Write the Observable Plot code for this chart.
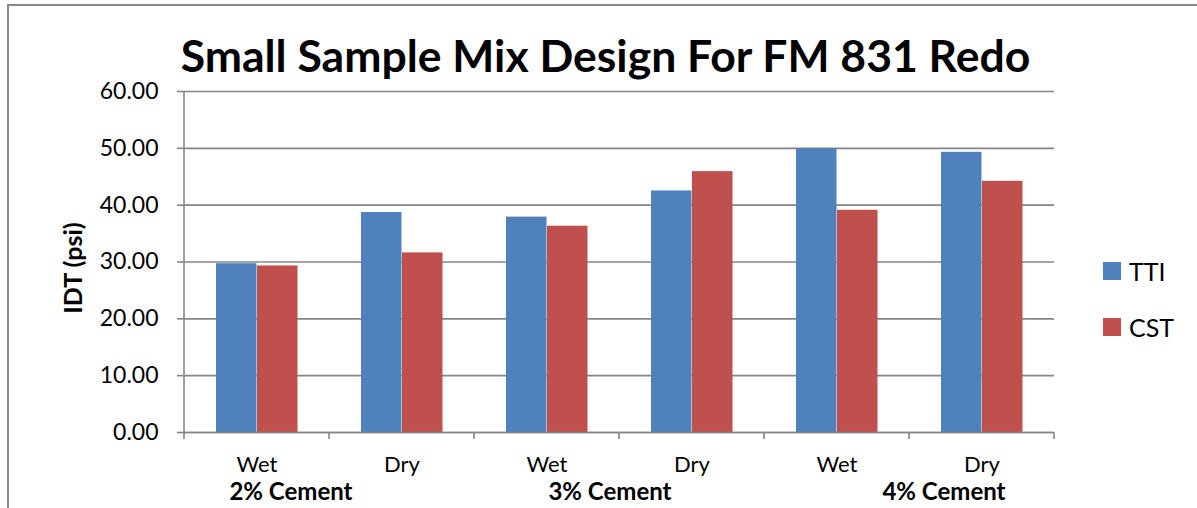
<!DOCTYPE html>
<html><head><meta charset="utf-8">
<script src="https://cdn.jsdelivr.net/npm/d3@7"></script>
<script src="https://cdn.jsdelivr.net/npm/@observablehq/plot@0.6"></script>
<style>
html,body{margin:0;padding:0;background:#fff;}
#wrap{position:relative;width:1197px;height:508px;overflow:hidden;font-family:Lato,"Open Sans",sans-serif;color:#000;}
#border{position:absolute;left:7px;top:4px;width:1400px;height:700px;border-left:2px solid #898989;border-top:2px solid #898989;}
#title{position:absolute;left:0;width:1211px;top:30px;text-align:center;font-weight:bold;font-size:44.5px;line-height:50px;white-space:nowrap;}
#ylabel{position:absolute;left:72px;top:268px;transform:translate(-50%,-50%) rotate(-90deg);font-weight:bold;font-size:25px;white-space:nowrap;}
#legend{position:absolute;left:1103px;top:243px;font-size:25px;}
#legend .item{display:flex;align-items:center;height:56px;}
#legend .sw{width:18px;height:18px;margin-right:8px;}
#chart{position:absolute;left:0;top:0;}
</style>
</head><body>
<div id="wrap">
  <div id="border"></div>
  <div id="chart"></div>
  <div id="title"></div>
  <div id="ylabel"></div>
  <div id="legend"></div>
</div>
<script>
const titleText = "Small Sample Mix Design For FM 831 Redo";
const yLabel = "IDT (psi)";
const cements = ["2% Cement", "3% Cement", "4% Cement"];
const conditions = ["Wet", "Dry"];
const series = ["TTI", "CST"];
const colors = ["#4F81BD", "#C0504D"];
const ttiValues = [29.7, 38.7, 37.9, 42.5, 49.9, 49.3];
const cstValues = [29.3, 31.6, 36.3, 45.9, 39.1, 44.2];
const yTicks = [0, 10, 20, 30, 40, 50, 60];

const categories = [];
cements.forEach(c => conditions.forEach(k => categories.push(c + "|" + k)));
const rows = [];
categories.forEach((cat, i) => {
  rows.push({cat, series: series[0], value: ttiValues[i]});
  rows.push({cat, series: series[1], value: cstValues[i]});
});

const grid = "#868686";
const plot = Plot.plot({
  width: 1197, height: 508,
  marginTop: 91, marginBottom: 76, marginLeft: 183, marginRight: 142,
  style: {fontFamily: "Lato, 'Open Sans', sans-serif", fontSize: "23px", color: "#000", background: "transparent"},
  fx: {domain: categories, padding: 0, axis: null},
  x: {domain: series, paddingInner: 0, paddingOuter: 0.73, axis: null},
  y: {domain: [0, 60], axis: null},
  color: {domain: series, range: colors},
  marks: [
    Plot.gridY(yTicks, {stroke: grid, strokeOpacity: 1, strokeWidth: 1.6}),
    Plot.barY(rows, {fx: "cat", x: "series", y: "value", fill: "series", insetRight: 0.5}),
    Plot.ruleY([0], {stroke: grid, strokeWidth: 1.6}),
    Plot.axisY(yTicks, {tickSize: 7, tickPadding: 19, tickFormat: d3.format(".2f"), label: null, stroke: grid, strokeWidth: 1.6, fontSize: 23}),
    Plot.axisFx({anchor: "bottom", tickSize: 0, tickPadding: 24, tickFormat: k => k.split("|")[1], label: null, fontSize: 22})
  ]
});
document.getElementById("chart").appendChild(plot);

// boundary ticks, y axis line and group labels, positioned with Plot's scales
const fx = plot.scale("fx"), ys = plot.scale("y");
const svg = d3.select(plot);
const y0 = ys.apply(0), y60 = ys.apply(60);
const bounds = categories.map(c => fx.apply(c));
bounds.push(fx.apply(categories[categories.length - 1]) + fx.bandwidth);
svg.append("line").attr("x1", bounds[0]).attr("x2", bounds[0]).attr("y1", y60).attr("y2", y0)
  .attr("stroke", grid).attr("stroke-width", 1.6);
bounds.forEach(b => svg.append("line").attr("x1", b).attr("x2", b).attr("y1", y0).attr("y2", y0 + 7)
  .attr("stroke", grid).attr("stroke-width", 1.6));
const groupShift = [-38, -9, 35];
cements.forEach((c, i) => {
  const mid = fx.apply(c + "|" + conditions[1]);
  svg.append("text").attr("x", mid + groupShift[i]).attr("y", y0 + 68)
    .attr("text-anchor", "middle").attr("font-weight", "bold").attr("font-size", 24)
    .attr("fill", "#000").text(c);
});

document.getElementById("title").textContent = titleText;
document.getElementById("ylabel").textContent = yLabel;
const lg = document.getElementById("legend");
series.forEach((s, i) => {
  const it = document.createElement("div"); it.className = "item";
  const sw = document.createElement("div"); sw.className = "sw"; sw.style.background = colors[i];
  const tx = document.createElement("span"); tx.textContent = s;
  it.appendChild(sw); it.appendChild(tx); lg.appendChild(it);
});
</script>
</body></html>
